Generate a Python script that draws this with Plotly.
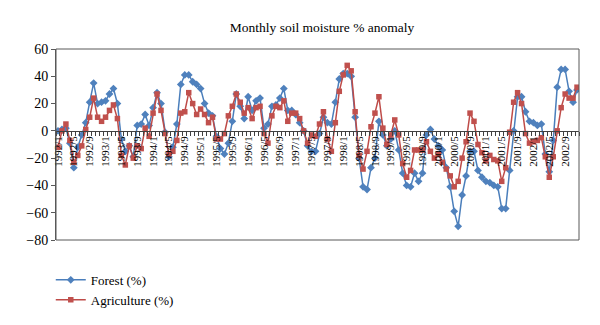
import plotly.graph_objects as go

# Month labels, January 1992 to December 2002
years = list(range(1992, 2003))
months = [f"{y}/{m}" for y in years for m in range(1, 13)]
labelled_months = months[::4]  # every fourth month carries a label

forest = [
    0, 1, 2, -9, -27, -12, -3, 6, 21, 35, 20, 21,
    22, 27, 31, 20, -6, -15, -11, -19, 4, 5, 12, 4,
    17, 28, 20, -1, -19, -12, 5, 34, 41, 41, 36, 34,
    31, 20, 13, 11, -4, -13, -17, -9, 7, 27, 18, 9,
    25, 15, 22, 24, 2, 5, 18, 19, 24, 31, 15, 15,
    12, 6, 0, -11, -15, -15, -2, 10, 6, 5, 21, 38,
    42, 42, 40, 10, -20, -41, -43, -27, -20, 7, -3, -11,
    -6, 0, -14, -31, -40, -41, -31, -37, -31, -3, 1, -6,
    -11, -14, -27, -41, -59, -70, -47, -33, -15, -15, -29, -34,
    -37, -38, -40, -41, -57, -57, -29, 0, 25, 25, 14, 7,
    6, 4, 5, -17, -30, -7, 32, 45, 45, 29, 21, 30,
]

agriculture = [
    -12, 0, 5, -7, -23, -18, -11, 1, 10, 24, 10, 7,
    10, 15, 19, 9, -18, -25, -11, -20, -11, -13, 2, -4,
    13, 27, 15, -2, -17, -15, -7, 13, 14, 28, 20, 12,
    16, 12, 6, 10, -6, -6, -2, 11, 18, 27, 21, 13,
    17, 9, 17, 18, -2, -9, 11, 18, 17, 22, 7, 13,
    13, 9, 0, -9, -3, -4, 5, 14, -6, -15, 6, 29,
    41, 48, 44, 14, -18, -28, -15, 3, 13, 25, 2, -10,
    -3, 8, -3, -24, -34, -29, -14, -14, -14, -8, -15, -20,
    -17, -23, -28, -33, -41, -37, -20, -8, 13, 7, -10, -16,
    -22, -18, -21, -22, -37, -27, -1, 21, 28, 20, -2, -9,
    -8, -7, -5, -19, -34, -19, 0, 17, 27, 24, 24, 32,
]

y_min, y_max, y_step = -80, 60, 20

serif = "Liberation Serif"
blue_line, blue_marker = "#4A7EBB", "#4F81BD"
red_line, red_marker = "#BE4B48", "#C0504D"

fig = go.Figure()
fig.add_trace(go.Scatter(
    x=months, y=forest, name="Forest (%)", mode="lines+markers",
    line=dict(color=blue_line, width=1.5),
    marker=dict(symbol="diamond", size=6, color=blue_marker),
))
fig.add_trace(go.Scatter(
    x=months, y=agriculture, name="Agriculture (%)", mode="lines+markers",
    line=dict(color=red_line, width=1.5),
    marker=dict(symbol="square", size=5.5, color=red_marker),
))

# Category axis crosses the value axis at zero
zero_pos = (0 - y_min) / (y_max - y_min)

fig.update_layout(
    width=600, height=325,
    margin=dict(l=56, r=21, t=49, b=85, autoexpand=False),
    paper_bgcolor="white", plot_bgcolor="white",
    font=dict(family=serif, size=13, color="black"),
    title=dict(
        text="Monthly soil moisture % anomaly",
        x=322 / 600, xref="container", xanchor="center",
        y=1 - 27 / 325, yref="container", yanchor="middle",
        font=dict(family=serif, size=13.5, color="black"),
    ),
    xaxis=dict(
        type="category",
        categoryorder="array", categoryarray=months,
        range=[-0.5, len(months) - 0.5],
        tickmode="array", tickvals=months,
        ticktext=[m if m in labelled_months else "" for m in months],
        tickangle=-90,
        tickson="boundaries",
        ticks="outside", ticklen=4, tickwidth=1, tickcolor="#404040",
        showline=True, linecolor="#404040", linewidth=1,
        showgrid=False, zeroline=False,
        anchor="free", position=zero_pos,
        automargin=False,
        tickfont=dict(family=serif, size=11, color="black"),
    ),
    yaxis=dict(
        range=[y_min, y_max], dtick=y_step, tick0=0,
        ticks="outside", ticklen=4, tickcolor="#595959",
        showline=True, linecolor="#595959", linewidth=1,
        showgrid=False, zeroline=False,
        automargin=False,
        tickfont=dict(family=serif, size=14, color="black"),
    ),
    legend=dict(
        orientation="v", x=-0.01, xanchor="left",
        y=-0.13, yanchor="top", tracegroupgap=0,
        font=dict(family=serif, size=13, color="black"),
        bgcolor="rgba(0,0,0,0)", itemwidth=30,
    ),
    shapes=[dict(
        type="rect", xref="paper", yref="paper", x0=0, x1=1, y0=0, y1=1,
        line=dict(color="#595959", width=1), layer="above",
    )],
)

fig.write_html("out.html")
